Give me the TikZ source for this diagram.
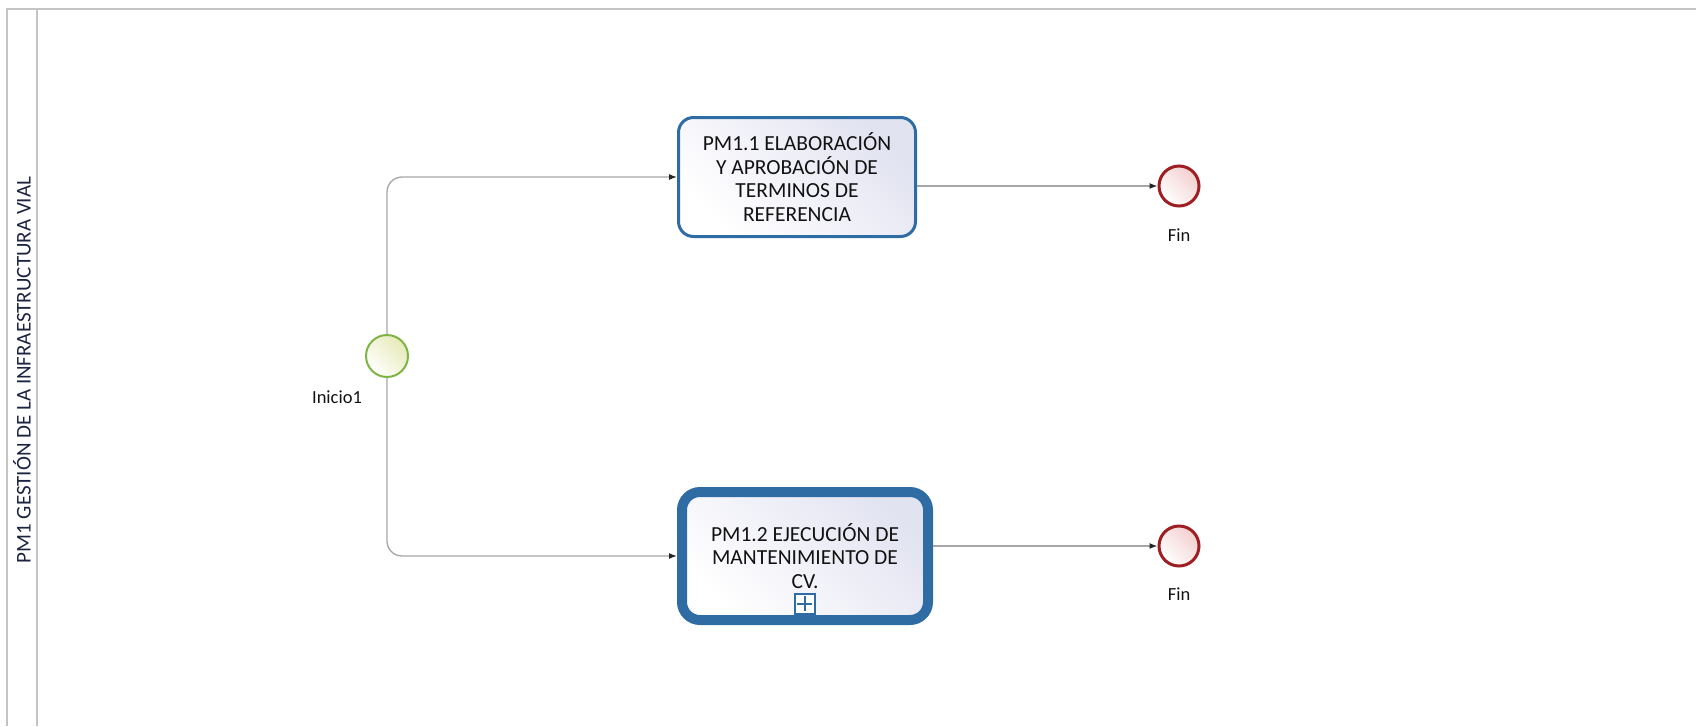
\documentclass[tikz,border=0pt]{standalone}
\usepackage{fontspec}
\setmainfont{Carlito}
\usetikzlibrary{arrows.meta}
\definecolor{poolline}{HTML}{C4C4C4}
\definecolor{flow}{HTML}{A6A6A6}
\definecolor{taskblue}{HTML}{2F6CA3}
\definecolor{tasklav}{HTML}{E2E3F1}
\definecolor{startgreen}{HTML}{7DB544}
\definecolor{startfill}{HTML}{E6EAB8}
\definecolor{endred}{HTML}{9E1F23}
\definecolor{endfill}{HTML}{F3CFCF}
\definecolor{ink}{HTML}{121212}
\definecolor{laneink}{HTML}{1C2440}
\begin{document}
\begin{tikzpicture}[x=1pt,y=-1pt,
  task/.style={draw=taskblue, rounded corners=15pt, left color=white, right color=tasklav,
    shading angle=135, align=center, text=ink, font=\fontsize{21.5}{23.8}\selectfont},
  startev/.style={circle, draw=startgreen, line width=2pt, minimum size=42pt, inner sep=0pt,
    left color=white, right color=startfill, shading angle=135},
  endev/.style={circle, draw=endred, line width=3pt, minimum size=40pt, inner sep=0pt,
    left color=white, right color=endfill, shading angle=135},
  lbl/.style={text=ink, font=\fontsize{18.5}{20}\selectfont},
  flowline/.style={draw=flow, line width=1.3pt, -{Latex[length=8pt,width=6pt,color=black!85]}}]
\useasboundingbox (0,0) rectangle (1696,726);
% pool frame and lane header
\draw[poolline, line width=1.5pt] (1696,9) -- (7,9) -- (7,726);
\draw[poolline, line width=1.5pt] (37,9) -- (37,726);
\node[rotate=90, text=laneink, font=\fontsize{21}{22}\selectfont] (lane) at (22,370)
  {PM1 GESTIÓN DE LA INFRAESTRUCTURA VIAL};
% events
\node[startev] (start) at (387,356) {};
\node[lbl] (startlbl) at (337,397) {Inicio1};
\node[endev] (end1) at (1179,186) {};
\node[lbl] (end1lbl) at (1179,235) {Fin};
\node[endev] (end2) at (1179,546) {};
\node[lbl] (end2lbl) at (1179,594) {Fin};
% tasks
\node[task, line width=3pt, minimum width=237pt, minimum height=119pt] (t1) at (797,177)
  {PM1.1 ELABORACIÓN\\Y APROBACIÓN DE\\TERMINOS DE\\REFERENCIA};
\node[task, line width=10pt, rounded corners=18pt, minimum width=246pt, minimum height=128pt] (t2) at (805,556)
  {PM1.2 EJECUCIÓN DE\\MANTENIMIENTO DE\\CV.};
% collapsed sub-process marker
\node[draw=taskblue, line width=2pt, fill=white, minimum size=20pt, inner sep=0pt, anchor=south] (mk) at (805,615) {};
\draw[taskblue, line width=2.6pt] (mk.north) ++(0,2.5) -- ++(0,15);
\draw[taskblue, line width=2.6pt] (mk.west) ++(2.5,0) -- ++(15,0);
% sequence flows
\draw[flowline, rounded corners=15pt] (start.north) |- (t1.west);
\draw[flowline, rounded corners=15pt] (start.south) |- (t2.west);
\draw[flowline] (t1.east |- end1) -- (end1.west);
\draw[flowline] (t2.east |- end2) -- (end2.west);
\end{tikzpicture}
\end{document}
